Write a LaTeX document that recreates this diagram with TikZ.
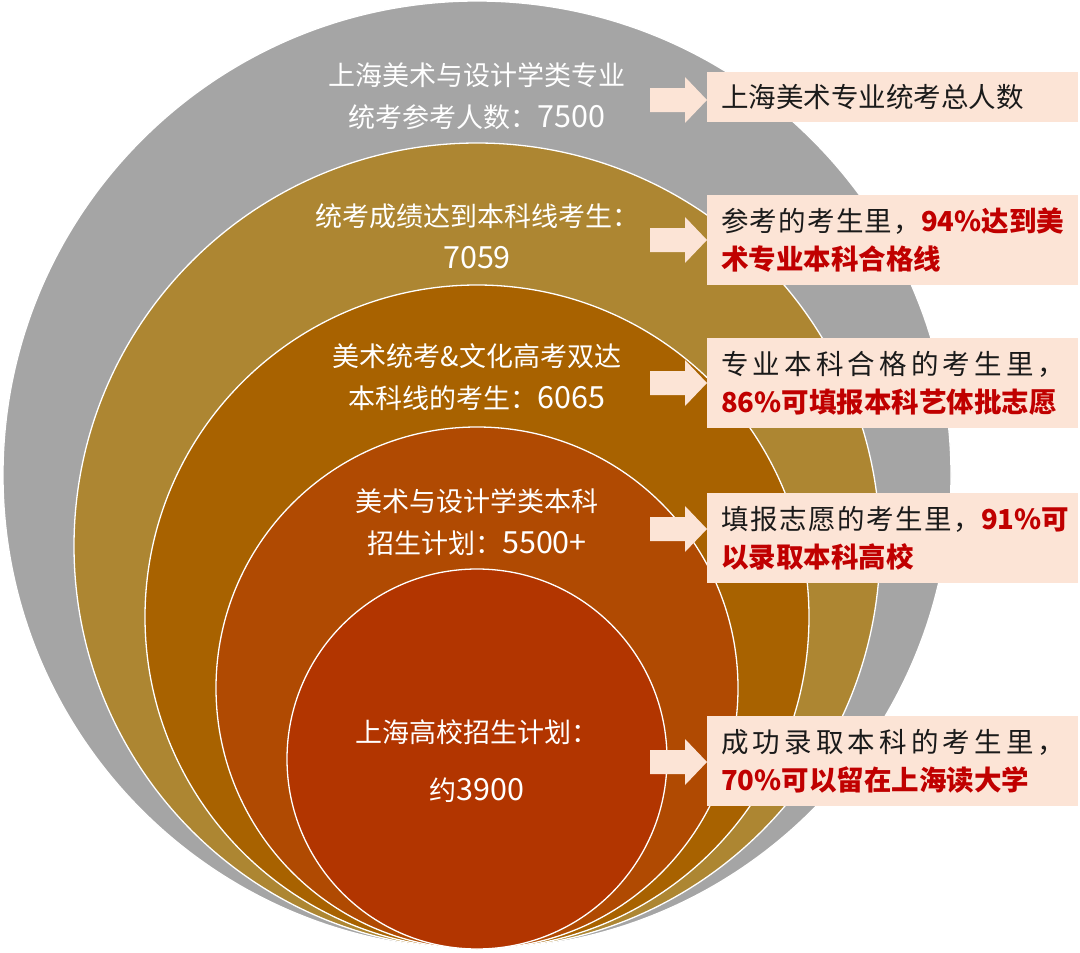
\documentclass[tikz,border=0pt]{standalone}
\usepackage{fontspec}
\setmainfont{Noto Sans CJK SC}
\newfontfamily\numfont{Noto Sans CJK SC}[Scale=1.13]
\definecolor{cgray}{HTML}{A5A5A5}
\definecolor{cgold}{HTML}{AD8632}
\definecolor{corange}{HTML}{A86200}
\definecolor{crust}{HTML}{B04A02}
\definecolor{cred}{HTML}{B23500}
\definecolor{pinkbox}{HTML}{FCE4D6}
\definecolor{hlred}{HTML}{C00000}
\definecolor{ink}{HTML}{1A1A1A}
\newcommand\hl[1]{{\color{hlred}\bfseries #1}}
\newcommand\nm[1]{{\numfont #1}}
\tikzset{
  ring/.style={draw=white, line width=1.3pt},
  ctext/.style={text=white, align=center, inner sep=0pt, font=\fontsize{27}{42}\selectfont},
  infobox/.style={fill=pinkbox, anchor=west, text width=343pt, inner xsep=14pt, inner ysep=0pt,
    align=left, text=ink, font=\fontsize{27.5}{38}\selectfont},
  blockarrow/.style={fill=pinkbox}
}
\begin{document}
\begin{tikzpicture}[x=1pt,y=-1pt]
\useasboundingbox (0,0) rectangle (1080,953);
% nested circles, all touching at the bottom
\draw[ring, fill=cgray]   (477,475) circle[radius=474pt];
\draw[ring, fill=cgold]   (477,546) circle[radius=403pt];
\draw[ring, fill=corange] (477,617) circle[radius=332pt];
\draw[ring, fill=crust]   (477,688) circle[radius=261pt];
\draw[ring, fill=cred]    (477,759) circle[radius=190pt];
% circle labels
\node[ctext] (t1) at (477,96) {上海美术与设计学类专业\\统考参考人数：\nm{7500}};
\node[ctext] (t2) at (477,236) {统考成绩达到本科线考生：\\\nm{7059}};
\node[ctext] (t3) at (477,377) {美术统考\&文化高考双达\\本科线的考生：\nm{6065}};
\node[ctext] (t4) at (477,522) {美术与设计学类本科\\招生计划：\nm{5500+}};
\node[ctext, font=\fontsize{27}{58}\selectfont] (t5) at (477,761) {上海高校招生计划：\\约\nm{3900}};
% info boxes
\node[infobox, minimum height=50pt] (b1) at (707,97) {上海美术专业统考总人数};
\node[infobox, minimum height=90pt] (b2) at (707,240)
  {\makebox[200pt][l]{参\hfill 考\hfill 的\hfill 考\hfill 生\hfill 里\hfill ，}\hl{94\%达到美}\\\hl{术专业本科合格线}};
\node[infobox, minimum height=90pt] (b3) at (707,383)
  {\makebox[344pt][l]{专\hfill 业\hfill 本\hfill 科\hfill 合\hfill 格\hfill 的\hfill 考\hfill 生\hfill 里\hfill ，}\\\hl{86\%可填报本科艺体批志愿}};
\node[infobox, minimum height=90pt] (b4) at (707,538)
  {\makebox[260pt][l]{填\hfill 报\hfill 志\hfill 愿\hfill 的\hfill 考\hfill 生\hfill 里\hfill ，}\hl{91\%可}\\\hl{以录取本科高校}};
\node[infobox, minimum height=90pt] (b5) at (707,761)
  {\makebox[344pt][l]{成\hfill 功\hfill 录\hfill 取\hfill 本\hfill 科\hfill 的\hfill 考\hfill 生\hfill 里\hfill ，}\\\hl{70\%可以留在上海读大学}};
% block arrows pointing into the boxes
\coordinate (a1) at (b1.west |- 0,100);
\coordinate (a2) at (b2.west |- 0,240);
\coordinate (a3) at (b3.west |- 0,383);
\coordinate (a4) at (b4.west |- 0,529);
\coordinate (a5) at (b5.west |- 0,762);
\foreach \a in {a1,a2,a3,a4,a5}{
  \fill[blockarrow] (\a) -- ++(-22,-23) -- ++(0,11) -- ++(-35,0) -- ++(0,24)
    -- ++(35,0) -- ++(0,11) -- cycle;
}
\end{tikzpicture}
\end{document}
